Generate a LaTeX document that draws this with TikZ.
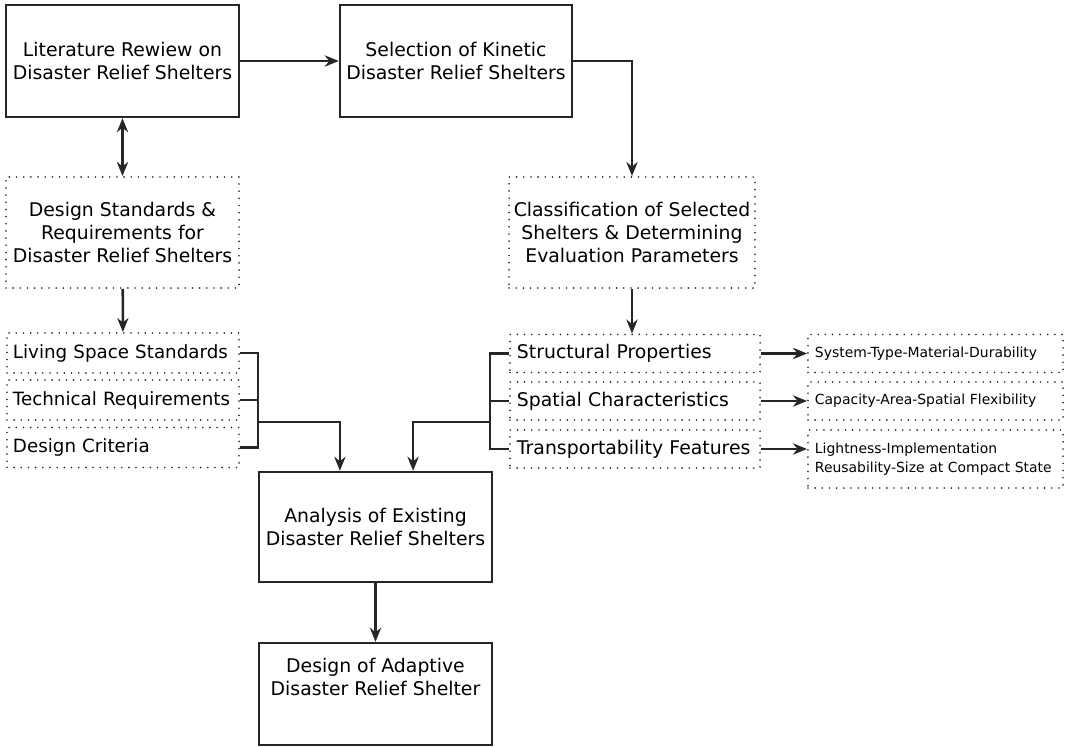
\documentclass[tikz,border=0pt]{standalone}
\usepackage{xcolor}
\usepackage{tikz}
\usepackage{fontspec}
\setmainfont{DejaVu Sans}
\usetikzlibrary{arrows.meta}

\tikzstyle{process} = [rectangle, minimum width=5.825cm, minimum height=2.8cm, align=center, draw=black!85, line width=1.7pt, font=\fontsize{13.4}{16.4}\selectfont]
\tikzstyle{dotbox} = [rectangle, align=center, draw=black!85, line width=1.3pt, dash pattern=on 0pt off 5.1pt, line cap=round, font=\fontsize{13.4}{16.4}\selectfont]
\tikzstyle{item} = [dotbox, minimum width=5.8cm, minimum height=1cm, inner xsep=0.15cm, text width=5.5cm, align=left, font=\fontsize{13}{16}\selectfont]
\tikzstyle{detail} = [dotbox, minimum width=6.375cm, minimum height=0.95cm, inner xsep=0.175cm, text width=6.025cm, align=left, font=\fontsize{9.9}{13.5}\selectfont]
\tikzstyle{line} = [line width=1.8pt, draw=black!85]
\tikzstyle{arrow} = [line, -{Stealth[length=10pt,width=8pt]}]
\tikzstyle{twoway} = [line, {Stealth[length=10pt,width=8pt]}-{Stealth[length=10pt,width=8pt]}]

\begin{document}
\begin{tikzpicture}[x=0.025cm, y=-0.025cm]

	\useasboundingbox (0,0) rectangle (1065,747);

	\node (lit) [process] at (122.5,61) {Literature Rewiew on\\Disaster Relief Shelters};
	\node (sel) [process, minimum width=5.8cm] at (456,61) {Selection of Kinetic\\Disaster Relief Shelters};
	\node (std) [dotbox, minimum width=5.825cm, minimum height=2.775cm] at (122.5,232.5) {Design Standards \&\\Requirements for\\Disaster Relief Shelters};
	\node (cls) [dotbox, minimum width=6cm, minimum height=2.775cm] at (632,232.5) {Classification of Selected\\Shelters \& Determining\\Evaluation Parameters};

	\node (liv) [item] at (123,353) {Living Space Standards};
	\node (tec) [item] at (123,400) {Technical Requirements};
	\node (cri) [item] at (123,447.5) {Design Criteria};

	\node (str) [item, minimum width=6.25cm, text width=5.9cm, inner xsep=0.175cm, minimum height=0.95cm, font=\fontsize{13.4}{16.4}\selectfont] at (635,353.5) {Structural Properties};
	\node (spa) [item, minimum width=6.25cm, text width=5.9cm, inner xsep=0.175cm, minimum height=0.95cm, font=\fontsize{13.4}{16.4}\selectfont] at (635,401) {Spatial Characteristics};
	\node (tra) [item, minimum width=6.25cm, text width=5.9cm, inner xsep=0.175cm, minimum height=0.95cm, font=\fontsize{13.4}{16.4}\selectfont] at (635,449) {Transportability Features};

	\node (sys) [detail] at (935.5,353.5) {System-Type-Material-Durability};
	\node (cap) [detail] at (935.5,401) {Capacity-Area-Spatial Flexibility};
	\node (lig) [detail, minimum height=1.45cm] at (935.5,459) {Lightness-Implementation\\Reusability-Size at Compact State};

	\node (ana) [process, minimum height=2.75cm] at (375.5,527) {Analysis of Existing\\Disaster Relief Shelters};
	\node (des) [process, minimum height=2.55cm, text depth=0.85cm] at (375.5,694) {Design of Adaptive\\Disaster Relief Shelter};

	\coordinate (lj) at (257,422);
	\coordinate (rj) at (491,422);

	\draw [arrow] (lit) -- (sel);
	\draw [arrow] (sel.east) -| (cls.north);
	\draw [twoway] (lit) -- (std);
	\draw [arrow] (std) -- (liv);
	\draw [arrow] (cls.south) -- (cls.south |- str.north);

	\draw [line] (liv.east) -- ++(18,0) |- (cri.east);
	\draw [line] (tec.east) -- ++(18,0);
	\draw [line] (str.west) -- ++(-19,0) |- (tra.west);
	\draw [line] (spa.west) -- ++(-19,0);
	\draw [arrow] (lj) -| ([xshift=-0.89cm]ana.north);
	\draw [arrow] (rj) -| ([xshift=0.94cm]ana.north);

	\draw [arrow] (str) -- (sys);
	\draw [arrow] (spa) -- (cap);
	\draw [arrow] (tra.east) -- (tra.east -| lig.west);

	\draw [arrow] (ana) -- (des);

\end{tikzpicture}
\end{document}
